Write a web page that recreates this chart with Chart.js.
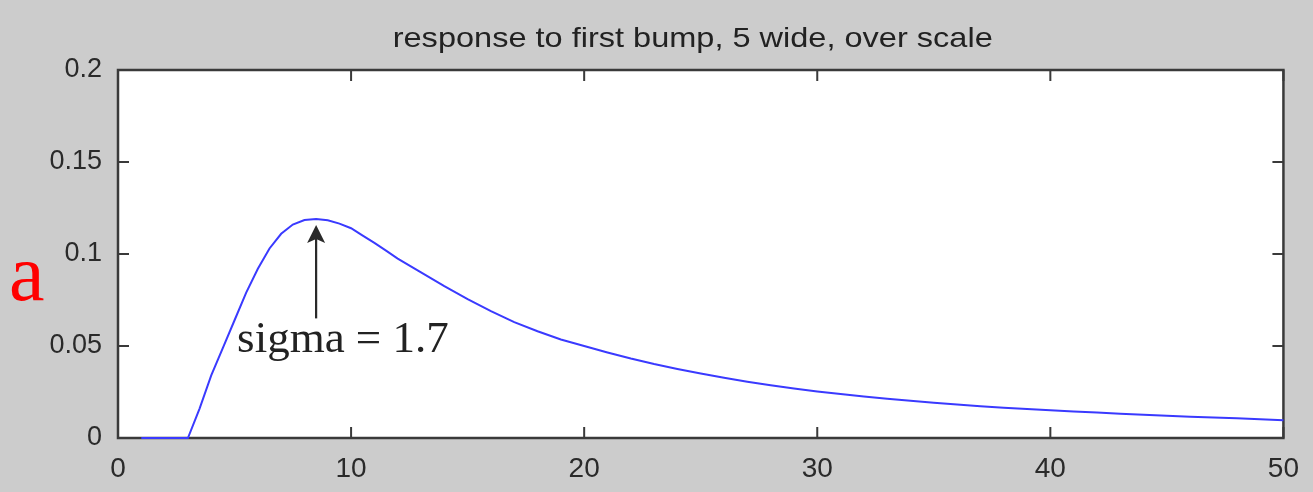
<!DOCTYPE html>
<html>
<head>
<meta charset="utf-8">
<script src="https://cdn.jsdelivr.net/npm/chart.js@4"></script>
<style>
html,body{margin:0;padding:0;background:#cccccc;}
#wrap{position:relative;width:1313px;height:492px;}
</style>
</head>
<body>
<div id="wrap"><canvas id="c" width="1313" height="492"></canvas></div>
<script>
const xValues = [1,2,3,3.5,4,4.5,5,5.5,6,6.5,7,7.5,8,8.5,9,9.5,10,10.5,11,11.5,12,13,14,15,16,17,18,19,20,21,22,23,24,25,26,27,28,29,30,31,32,33,34,35,36,37,38,39,40,41,42,43,44,45,46,47,48,49,50];
const responseValues = [0,0,0,0.016,0.034,0.049,0.064,0.079,0.092,0.103,0.111,0.116,0.1185,0.119,0.1183,0.1165,0.114,0.110,0.106,0.1018,0.0975,0.090,0.0825,0.0755,0.069,0.063,0.058,0.0535,0.0500,0.0465,0.0432,0.0402,0.0375,0.035,0.0327,0.0306,0.0287,0.0269,0.0253,0.0239,0.0226,0.0213,0.0202,0.0191,0.0182,0.0173,0.0165,0.0158,0.0151,0.0144,0.0138,0.0132,0.0126,0.0121,0.0116,0.0111,0.0107,0.0102,0.0097];
const xTicks = [0,10,20,30,40,50];
const yTicks = [0,0.05,0.1,0.15,0.2];
const titleText = "response to first bump, 5 wide, over scale";
const annotationText = "sigma = 1.7";
const annotationX = 8.5;
const annotationTipY = 0.1158;
const annotationTailY = 0.065;
const panelLabel = "a";

const points = xValues.map((x,i)=>({x:x, y:responseValues[i]}));

const framePlugin = {
  id:'frame',
  beforeDraw(chart){
    const {ctx, chartArea:a} = chart;
    ctx.save();
    ctx.fillStyle = '#ffffff';
    ctx.fillRect(a.left, a.top, a.right-a.left, a.bottom-a.top);
    ctx.restore();
  },
  beforeDatasetsDraw(chart){
    const {ctx, chartArea:a, scales} = chart;
    ctx.save();
    ctx.strokeStyle = '#3a3a3a';
    ctx.lineWidth = 2.5;
    ctx.strokeRect(a.left, a.top, a.right-a.left, a.bottom-a.top);
    ctx.lineWidth = 2;
    const tl = 11;
    xTicks.forEach(v=>{
      const px = scales.x.getPixelForValue(v);
      ctx.beginPath();
      ctx.moveTo(px, a.bottom); ctx.lineTo(px, a.bottom - tl);
      ctx.moveTo(px, a.top); ctx.lineTo(px, a.top + tl);
      ctx.stroke();
    });
    yTicks.forEach(v=>{
      const py = scales.y.getPixelForValue(v);
      ctx.beginPath();
      ctx.moveTo(a.left, py); ctx.lineTo(a.left + tl, py);
      ctx.moveTo(a.right, py); ctx.lineTo(a.right - tl, py);
      ctx.stroke();
    });
    ctx.restore();
  },
  afterDraw(chart){
    const {ctx, chartArea:a, scales} = chart;
    ctx.save();
    // title
    ctx.fillStyle = '#222222';
    ctx.font = '28px "Liberation Sans", Arial, sans-serif';
    ctx.textBaseline = 'middle';
    ctx.textAlign = 'center';
    const tw = ctx.measureText(titleText).width;
    const sx = 600 / tw;
    ctx.save();
    ctx.translate((a.left + a.right)/2 - 8, 39);
    ctx.scale(sx, 1);
    ctx.fillText(titleText, 0, 0);
    ctx.restore();
    // arrow annotation
    const ax = scales.x.getPixelForValue(annotationX);
    const ty = scales.y.getPixelForValue(annotationTipY);
    const by = scales.y.getPixelForValue(annotationTailY);
    ctx.strokeStyle = '#2a2a2a';
    ctx.fillStyle = '#2a2a2a';
    ctx.lineWidth = 2.2;
    ctx.beginPath();
    ctx.moveTo(ax, by); ctx.lineTo(ax, ty + 10);
    ctx.stroke();
    ctx.beginPath();
    ctx.moveTo(ax, ty);
    ctx.lineTo(ax - 9, ty + 18);
    ctx.lineTo(ax, ty + 14);
    ctx.lineTo(ax + 9, ty + 18);
    ctx.closePath();
    ctx.fill();
    ctx.font = '45px "Liberation Serif", "Times New Roman", serif';
    ctx.textAlign = 'left';
    ctx.textBaseline = 'alphabetic';
    ctx.fillStyle = '#222222';
    ctx.fillText(annotationText, ax - 79, by + 34);
    // panel label
    ctx.fillStyle = '#ff0000';
    ctx.font = '80px "Liberation Serif", "Times New Roman", serif';
    ctx.fillText(panelLabel, 9, 300);
    ctx.restore();
  }
};

new Chart(document.getElementById('c'), {
  type:'line',
  data:{datasets:[{data:points, borderColor:'#3a3aff', borderWidth:2, pointRadius:0, tension:0, fill:false, clip:4}]},
  options:{
    responsive:false, animation:false,
    layout:{padding:{top:70, right:29, left:0, bottom:0}},
    plugins:{legend:{display:false}, tooltip:{enabled:false}, title:{display:false}},
    scales:{
      x:{type:'linear', min:0, max:50,
        afterBuildTicks(s){ s.ticks = xTicks.map(v=>({value:v})); },
        afterFit(s){ s.height = 54; },
        grid:{display:false, drawTicks:false}, border:{display:false},
        ticks:{padding:14, color:'#2a2a2a', font:{family:'"Liberation Sans", Arial, sans-serif', size:28}, callback:v=>String(v), maxRotation:0}
      },
      y:{type:'linear', min:0, max:0.2,
        afterBuildTicks(s){ s.ticks = yTicks.map(v=>({value:v})); },
        afterFit(s){ s.width = 118; },
        grid:{display:false, drawTicks:false}, border:{display:false},
        ticks:{padding:16, color:'#2a2a2a', font:{family:'"Liberation Sans", Arial, sans-serif', size:27}, callback:v=>String(+v.toFixed(2))}
      }
    }
  },
  plugins:[framePlugin]
});
</script>
</body>
</html>
